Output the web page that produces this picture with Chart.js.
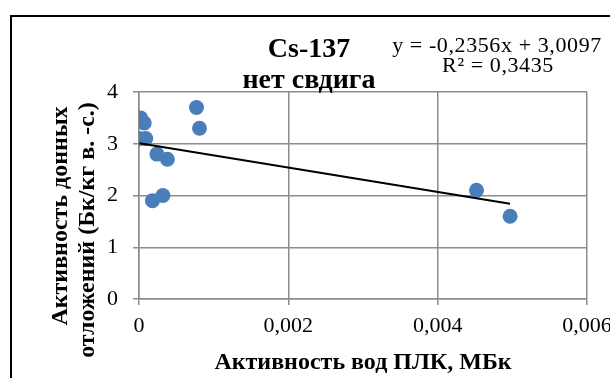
<!DOCTYPE html>
<html>
<head>
<meta charset="utf-8">
<script src="https://cdn.jsdelivr.net/npm/chart.js@4/dist/chart.umd.min.js"></script>
<style>
  html, body { margin: 0; padding: 0; background: #fff; }
  canvas { display: block; }
</style>
</head>
<body>
<canvas id="chart" width="610" height="378"></canvas>
<script>
// Cs-137: activity of bottom sediments vs. activity of the water (no shift)
const waterActivity = [0.00002, 0.00007, 0.000005, 0.00009, 0.00024, 0.00038, 0.00032, 0.00018, 0.00077, 0.00081, 0.00452, 0.00497];
const sedimentActivity = [3.5, 3.4, 3.1, 3.1, 2.8, 2.7, 2.0, 1.9, 3.7, 3.3, 2.1, 1.6];

const xTickValues = [0, 0.002, 0.004, 0.006];
const xTickLabels = ['0', '0,002', '0,004', '0,006'];
const yTickValues = [0, 1, 2, 3, 4];
const yTickLabels = ['0', '1', '2', '3', '4'];

// linear trend, slope given per 0.001 MBq
const trendSlope = -0.2356;
const trendIntercept = 3.0097;
const trendR2 = 0.3435;

const titleLines = ['Cs-137', 'нет свдига'];
const xTitle = 'Активность вод ПЛК, МБк';
const yTitleLines = ['Активность донных', 'отложений (Бк/кг в. -с.)'];

const serif = "'Liberation Serif', 'Times New Roman', serif";
const gridGrey = '#8c8c8c';
const pointBlue = '#4A7EBB';

const points = waterActivity.map((x, i) => ({ x: x, y: sedimentActivity[i] }));
const trendAt = x => trendIntercept + trendSlope * x * 1000;
const xLo = Math.min(...waterActivity);
const xHi = Math.max(...waterActivity);
const trendPoints = [{ x: xLo, y: trendAt(xLo) }, { x: xHi, y: trendAt(xHi) }];

const comma = v => String(v).replace('.', ',');
const equationLines = [
  'y = ' + comma(trendSlope) + 'x + ' + comma(trendIntercept),
  'R\u00B2 = ' + comma(trendR2)
];

// outer frame of the chart object, white background
const chartFrame = {
  id: 'chartFrame',
  beforeDraw(chart) {
    const ctx = chart.ctx;
    ctx.save();
    ctx.fillStyle = '#fff';
    ctx.fillRect(0, 0, chart.width, chart.height);
    ctx.strokeStyle = '#000';
    ctx.lineWidth = 2;
    ctx.strokeRect(11, 16, chart.width + 40, chart.height + 40);
    ctx.restore();
  }
};

// rotated value-axis title and the trendline equation
const sideLabels = {
  id: 'sideLabels',
  afterDraw(chart) {
    const ctx = chart.ctx;
    ctx.save();
    ctx.fillStyle = '#000';
    ctx.textAlign = 'center';
    ctx.textBaseline = 'alphabetic';

    ctx.font = 'bold 24px ' + serif;
    const yTitlePos = [{ x: 67, y: 216 }, { x: 94, y: 230 }];
    yTitleLines.forEach((line, i) => {
      ctx.save();
      ctx.translate(yTitlePos[i].x, yTitlePos[i].y);
      ctx.rotate(-Math.PI / 2);
      ctx.fillText(line, 0, 0);
      ctx.restore();
    });

    ctx.font = '22px ' + serif;
    if ('letterSpacing' in ctx) ctx.letterSpacing = '0.6px';
    ctx.fillText(equationLines[0], 497, 52);
    ctx.fillText(equationLines[1], 498, 72);
    ctx.restore();
  }
};

const axisGrid = {
  color: gridGrey,
  lineWidth: 1.5,
  tickLength: 6,
  tickColor: gridGrey,
  drawTicks: true
};

new Chart(document.getElementById('chart'), {
  type: 'scatter',
  data: {
    datasets: [
      {
        label: 'Cs-137',
        data: points,
        backgroundColor: pointBlue,
        borderWidth: 0,
        pointRadius: 7.5,
        pointHoverRadius: 7.5,
        order: 2
      },
      {
        type: 'line',
        label: 'Линейная',
        data: trendPoints,
        borderColor: '#000',
        borderWidth: 2,
        pointRadius: 0,
        showLine: true,
        fill: false,
        order: 1
      }
    ]
  },
  options: {
    responsive: false,
    animation: false,
    devicePixelRatio: 1,
    layout: { padding: { left: 31, right: 23, top: 0, bottom: 0 } },
    plugins: {
      legend: { display: false },
      tooltip: { enabled: false },
      title: {
        display: true,
        text: titleLines,
        color: '#000',
        font: { family: serif, size: 28, weight: 'bold', lineHeight: 31 / 28 },
        padding: { top: 34, bottom: -4 }
      }
    },
    scales: {
      x: {
        type: 'linear',
        min: 0,
        max: 0.006,
        afterBuildTicks: scale => { scale.ticks = xTickValues.map(v => ({ value: v })); },
        afterFit: scale => {
          scale.height = 79;
          scale.paddingLeft = 0;
          scale.paddingRight = 0;
        },
        ticks: {
          color: '#000',
          padding: 8,
          maxRotation: 0,
          autoSkip: false,
          font: { family: serif, size: 22 },
          callback: (v, i) => xTickLabels[i]
        },
        grid: axisGrid,
        border: { color: gridGrey, width: 1.5 },
        title: {
          display: true,
          text: xTitle,
          color: '#000',
          font: { family: serif, size: 24, weight: 'bold', lineHeight: 1.2 },
          padding: { top: 0, bottom: 1 }
        }
      },
      y: {
        type: 'linear',
        min: 0,
        max: 4,
        afterBuildTicks: scale => { scale.ticks = yTickValues.map(v => ({ value: v })); },
        afterFit: scale => {
          scale.width = 108;
          scale.paddingTop = 0;
          scale.paddingBottom = 0;
        },
        ticks: {
          color: '#000',
          padding: 15,
          autoSkip: false,
          font: { family: serif, size: 22 },
          callback: (v, i) => yTickLabels[i]
        },
        grid: axisGrid,
        border: { color: gridGrey, width: 1.5 }
      }
    }
  },
  plugins: [chartFrame, sideLabels]
});
</script>
</body>
</html>
